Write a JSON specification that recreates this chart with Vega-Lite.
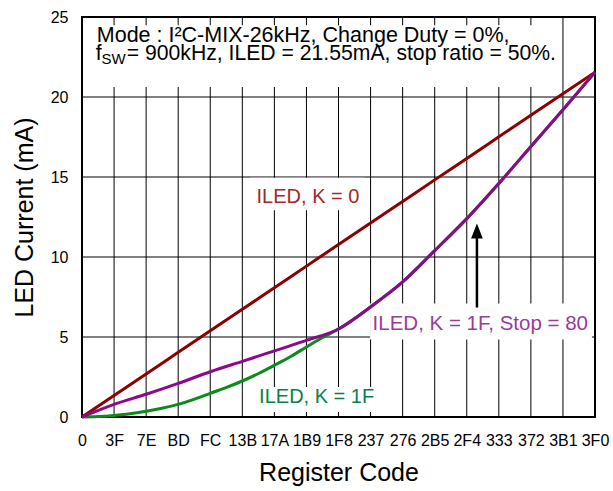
{
  "$schema": "https://vega.github.io/schema/vega-lite/v6.json",
  "width": 513,
  "height": 400,
  "autosize": "none",
  "padding": {"left": 82, "top": 17, "right": 18, "bottom": 74},
  "background": "white",
  "config": {"view": {"stroke": "#000", "strokeWidth": 2}, "font": "Liberation Sans"},
  "datasets": {
    "gridv": [
      {"reg": 63, "ma": 0, "ma2": 25}, {"reg": 126, "ma": 0, "ma2": 25}, {"reg": 189, "ma": 0, "ma2": 25},
      {"reg": 252, "ma": 0, "ma2": 25}, {"reg": 315, "ma": 0, "ma2": 25}, {"reg": 378, "ma": 0, "ma2": 25},
      {"reg": 441, "ma": 0, "ma2": 25}, {"reg": 504, "ma": 0, "ma2": 25}, {"reg": 567, "ma": 0, "ma2": 25},
      {"reg": 630, "ma": 0, "ma2": 25}, {"reg": 693, "ma": 0, "ma2": 25}, {"reg": 756, "ma": 0, "ma2": 25},
      {"reg": 819, "ma": 0, "ma2": 25}, {"reg": 882, "ma": 0, "ma2": 25}, {"reg": 945, "ma": 0, "ma2": 25}
    ],
    "gridh": [
      {"ma": 5, "reg": 0, "reg2": 1008}, {"ma": 10, "reg": 0, "reg2": 1008},
      {"ma": 15, "reg": 0, "reg2": 1008}, {"ma": 20, "reg": 0, "reg2": 1008}
    ],
    "curves": [
      {"series": "K0", "reg": 0, "ma": 0}, {"series": "K0", "reg": 63, "ma": 1.35}, {"series": "K0", "reg": 126, "ma": 2.69},
      {"series": "K0", "reg": 189, "ma": 4.04}, {"series": "K0", "reg": 252, "ma": 5.39}, {"series": "K0", "reg": 315, "ma": 6.73},
      {"series": "K0", "reg": 378, "ma": 8.08}, {"series": "K0", "reg": 441, "ma": 9.43}, {"series": "K0", "reg": 504, "ma": 10.78},
      {"series": "K0", "reg": 567, "ma": 12.12}, {"series": "K0", "reg": 630, "ma": 13.47}, {"series": "K0", "reg": 693, "ma": 14.82},
      {"series": "K0", "reg": 756, "ma": 16.16}, {"series": "K0", "reg": 819, "ma": 17.51}, {"series": "K0", "reg": 882, "ma": 18.86},
      {"series": "K0", "reg": 945, "ma": 20.2}, {"series": "K0", "reg": 1008, "ma": 21.55},
      {"series": "K1F", "reg": 0, "ma": 0}, {"series": "K1F", "reg": 31, "ma": 0.03}, {"series": "K1F", "reg": 63, "ma": 0.1},
      {"series": "K1F", "reg": 94, "ma": 0.2}, {"series": "K1F", "reg": 126, "ma": 0.36}, {"series": "K1F", "reg": 157, "ma": 0.55},
      {"series": "K1F", "reg": 189, "ma": 0.79}, {"series": "K1F", "reg": 220, "ma": 1.1}, {"series": "K1F", "reg": 252, "ma": 1.48},
      {"series": "K1F", "reg": 284, "ma": 1.85}, {"series": "K1F", "reg": 315, "ma": 2.25}, {"series": "K1F", "reg": 347, "ma": 2.72},
      {"series": "K1F", "reg": 378, "ma": 3.23}, {"series": "K1F", "reg": 410, "ma": 3.78}, {"series": "K1F", "reg": 441, "ma": 4.38},
      {"series": "K1F", "reg": 472, "ma": 4.95}, {"series": "K1F", "reg": 504, "ma": 5.5}, {"series": "K1F", "reg": 567, "ma": 6.88},
      {"series": "K1F", "reg": 630, "ma": 8.44}, {"series": "K1F", "reg": 693, "ma": 10.4}, {"series": "K1F", "reg": 756, "ma": 12.4},
      {"series": "K1F", "reg": 819, "ma": 14.6}, {"series": "K1F", "reg": 882, "ma": 16.9}, {"series": "K1F", "reg": 945, "ma": 19.2},
      {"series": "K1F", "reg": 1008, "ma": 21.55},
      {"series": "Stop80", "reg": 0, "ma": 0}, {"series": "Stop80", "reg": 63, "ma": 0.79}, {"series": "Stop80", "reg": 126, "ma": 1.42},
      {"series": "Stop80", "reg": 189, "ma": 2.1}, {"series": "Stop80", "reg": 252, "ma": 2.83}, {"series": "Stop80", "reg": 315, "ma": 3.48},
      {"series": "Stop80", "reg": 378, "ma": 4.13}, {"series": "Stop80", "reg": 441, "ma": 4.79}, {"series": "Stop80", "reg": 504, "ma": 5.5},
      {"series": "Stop80", "reg": 567, "ma": 6.88}, {"series": "Stop80", "reg": 630, "ma": 8.44}, {"series": "Stop80", "reg": 693, "ma": 10.4},
      {"series": "Stop80", "reg": 756, "ma": 12.4}, {"series": "Stop80", "reg": 819, "ma": 14.6}, {"series": "Stop80", "reg": 882, "ma": 16.9},
      {"series": "Stop80", "reg": 945, "ma": 19.2}, {"series": "Stop80", "reg": 1008, "ma": 21.55}
    ],
    "boxes": [
      {"box": "top", "reg": 2, "reg2": 939, "ma": 20.63, "ma2": 24.48},
      {"box": "red", "reg": 330, "reg2": 556, "ma": 12.92, "ma2": 14.95},
      {"box": "purple", "reg": 566, "reg2": 1002, "ma": 4.84, "ma2": 7.1},
      {"box": "green", "reg": 340, "reg2": 576, "ma": 0.31, "ma2": 1.87}
    ],
    "notes": [
      {"id": "mode", "reg": 29, "ma": 23.44, "text": "Mode : I²C-MIX-26kHz, Change Duty = 0%,"},
      {"id": "f", "reg": 27, "ma": 22.34, "text": "f"},
      {"id": "sw", "reg": 38.5, "ma": 22.34, "text": "SW"},
      {"id": "line2", "reg": 87.8, "ma": 22.34, "text": "= 900kHz, ILED = 21.55mA, stop ratio = 50%."},
      {"id": "red", "reg": 343, "ma": 13.375, "text": "ILED, K = 0"},
      {"id": "purple", "reg": 571, "ma": 5.46, "text": "ILED, K = 1F, Stop = 80"},
      {"id": "green", "reg": 348, "ma": 0.875, "text": "ILED, K = 1F"}
    ],
    "arrow": [{"reg": 776, "ma": 6.84, "ma2": 11.62}]
  },
  "encoding": {
    "x": {"field": "reg", "type": "quantitative", "scale": {"domain": [0, 1008], "nice": false, "zero": false}, "axis": null},
    "y": {"field": "ma", "type": "quantitative", "scale": {"domain": [0, 25], "nice": false}, "axis": null}
  },
  "resolve": {"axis": {"x": "independent", "y": "independent"}},
  "layer": [
    {"data": {"name": "gridv"}, "mark": {"type": "rule", "strokeWidth": 1, "color": "#000"},
     "encoding": {
       "x": {
         "field": "reg", "type": "quantitative",
         "scale": {"domain": [0, 1008], "nice": false, "zero": false},
         "axis": {
           "values": [0, 63, 126, 189, 252, 315, 378, 441, 504, 567, 630, 693, 756, 819, 882, 945, 1008],
           "format": "X", "grid": false,
           "ticks": false, "domain": false, "labelFontSize": 16, "labelColor": "#000", "labelPadding": 15,
           "labelOverlap": false, "labelFlush": false, "labelBound": false,
           "encode": {"labels": {"update": {"dx": {"signal": "0.5 - 0.59 * datum.value / 63"}}}},
           "title": "Register Code", "titleFontSize": 25, "titleFontWeight": "normal", "titleColor": "#000", "titlePadding": 12
         }
       },
       "y": {
         "field": "ma", "type": "quantitative",
         "scale": {"domain": [0, 25], "nice": false},
         "axis": {
           "values": [0, 5, 10, 15, 20, 25], "grid": false,
           "ticks": false, "domain": false, "labelFontSize": 16, "labelColor": "#000", "labelPadding": 14,
           "title": "LED Current (mA)", "titleFontSize": 25, "titleFontWeight": "normal", "titleColor": "#000", "titlePadding": 13
         }
       },
       "y2": {"field": "ma2"}
     }},
    {"data": {"name": "gridh"}, "mark": {"type": "rule", "strokeWidth": 1, "color": "#000"},
     "encoding": {"x2": {"field": "reg2"}}},
    {"data": {"name": "boxes"}, "mark": {"type": "rect", "fill": "white"},
     "encoding": {"x2": {"field": "reg2"}, "y2": {"field": "ma2"}}},
    {"data": {"name": "curves"}, "transform": [{"filter": "datum.series == 'K0'"}],
     "mark": {"type": "line", "strokeWidth": 3, "color": "#8b0000", "interpolate": "monotone"}, "encoding": {}},
    {"data": {"name": "curves"}, "transform": [{"filter": "datum.series == 'K1F'"}],
     "mark": {"type": "line", "strokeWidth": 3, "color": "#0c8a1c", "interpolate": "monotone"}, "encoding": {}},
    {"data": {"name": "curves"}, "transform": [{"filter": "datum.series == 'Stop80'"}],
     "mark": {"type": "line", "strokeWidth": 3, "color": "#8b0a8b", "interpolate": "monotone"}, "encoding": {}},
    {"data": {"name": "arrow"}, "mark": {"type": "rule", "strokeWidth": 2.5, "color": "#000"},
     "encoding": {"y2": {"field": "ma2"}}},
    {"data": {"name": "arrow"}, "mark": {"type": "point", "shape": "M0,-1L0.78,1L-0.78,1Z", "size": 225, "filled": true, "color": "#000", "opacity": 1},
     "encoding": {"y": {"field": "ma2", "type": "quantitative", "axis": null}}},
    {"data": {"name": "notes"}, "transform": [{"filter": "datum.id == 'mode'"}],
     "mark": {"type": "text", "align": "left", "baseline": "alphabetic", "fontSize": 21.5, "color": "#000"},
     "encoding": {"text": {"field": "text"}}},
    {"data": {"name": "notes"}, "transform": [{"filter": "datum.id == 'f' || datum.id == 'line2'"}],
     "mark": {"type": "text", "align": "left", "baseline": "alphabetic", "fontSize": 21.2, "color": "#000"},
     "encoding": {"text": {"field": "text"}}},
    {"data": {"name": "notes"}, "transform": [{"filter": "datum.id == 'sw'"}],
     "mark": {"type": "text", "align": "left", "baseline": "alphabetic", "fontSize": 15, "dy": 4, "color": "#000"},
     "encoding": {"text": {"field": "text"}}},
    {"data": {"name": "notes"}, "transform": [{"filter": "datum.id == 'red'"}],
     "mark": {"type": "text", "align": "left", "baseline": "alphabetic", "fontSize": 20, "color": "#9e2a2e"},
     "encoding": {"text": {"field": "text"}}},
    {"data": {"name": "notes"}, "transform": [{"filter": "datum.id == 'purple'"}],
     "mark": {"type": "text", "align": "left", "baseline": "alphabetic", "fontSize": 20.5, "color": "#9c3a9c"},
     "encoding": {"text": {"field": "text"}}},
    {"data": {"name": "notes"}, "transform": [{"filter": "datum.id == 'green'"}],
     "mark": {"type": "text", "align": "left", "baseline": "alphabetic", "fontSize": 20, "color": "#0a7f48"},
     "encoding": {"text": {"field": "text"}}}
  ]
}
